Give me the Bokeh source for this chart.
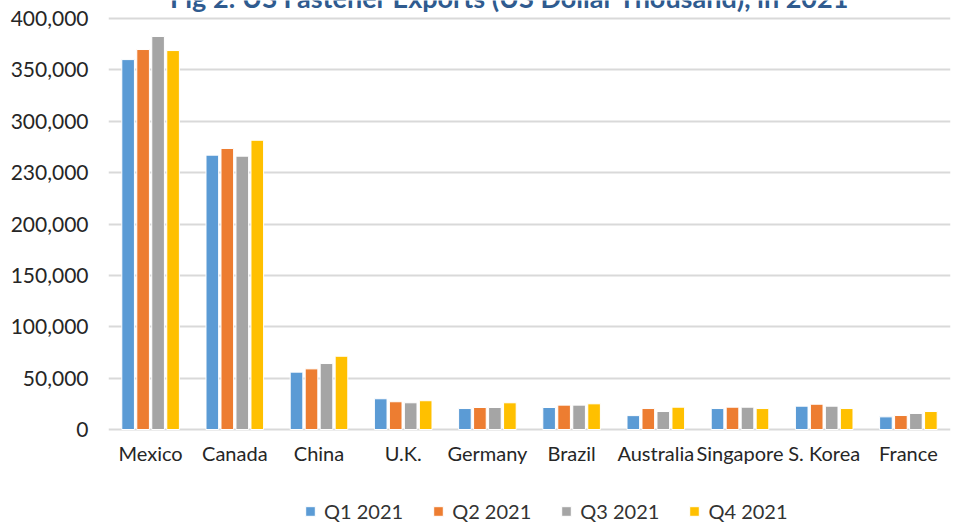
from bokeh.plotting import figure
from bokeh.models import (FactorRange, Legend, LegendItem, FixedTicker,
                          ColumnDataSource)
from bokeh.transform import dodge
from bokeh.core.properties import value
from bokeh.embed import file_html
from bokeh.resources import INLINE

countries = ["Mexico", "Canada", "China", "U.K.", "Germany", "Brazil",
             "Australia", "Singapore", "S. Korea", "France"]
q1 = [360000, 267000, 55800, 29900, 20400, 21400, 13500, 20400, 22700, 12300]
q2 = [369800, 273500, 59000, 27000, 21400, 23700, 20400, 21700, 24600, 13600]
q3 = [382500, 266000, 64200, 26000, 21400, 23700, 17500, 21700, 22700, 15600]
q4 = [368800, 281500, 71300, 28000, 26000, 25000, 21700, 20400, 20400, 17500]
series_names = ["Q1 2021", "Q2 2021", "Q3 2021", "Q4 2021"]
series_colors = ["#5B9BD5", "#ED7D31", "#A5A5A5", "#FFC000"]
y_ticks = [0, 50000, 100000, 150000, 200000, 250000, 300000, 350000, 400000]
y_tick_labels = ["0", "50,000", "100,000", "150,000", "200,000", "230,000",
                 "300,000", "350,000", "400,000"]
title_text = "Fig 2: US Fastener Exports (US Dollar Thousand), in 2021"

FONT = "Lato"

# layout geometry (pixels)
W, H = 952, 525
LEFT, TOP_PAD, AXIS_PX, BOTTOM_PAD = 108, 18, 411, 96
per_px = 400000 / AXIS_PX

src = ColumnDataSource(dict(country=countries, q1=q1, q2=q2, q3=q3, q4=q4,
                            base=[0] * len(countries)))

p = figure(x_range=FactorRange(*countries, range_padding=0),
           y_range=(-BOTTOM_PAD * per_px, 400000 + TOP_PAD * per_px),
           width=W, height=H, output_backend="svg", toolbar_location=None,
           x_axis_location=None,
           min_border_left=LEFT, min_border_right=2, min_border_top=0,
           min_border_bottom=0)
p.outline_line_color = None
p.background_fill_color = "white"
p.border_fill_color = "white"

p.xgrid.grid_line_color = None
p.ygrid.grid_line_color = "#D9D9D9"
p.ygrid.grid_line_width = 2
p.ygrid.ticker = FixedTicker(ticks=y_ticks)

offsets = [-0.267, -0.089, 0.089, 0.267]
renderers = []
for key, off, col in zip(["q1", "q2", "q3", "q4"], offsets, series_colors):
    r = p.vbar(x=dodge("country", off, range=p.x_range), top=key, bottom="base",
               width=0.15, source=src, fill_color=col, line_color="white",
               line_width=1)
    renderers.append(r)

# category labels under the zero line
p.text(x="country", y="base", text="country", source=src, y_offset=23,
       text_align="center", text_baseline="middle",
       text_font=value(FONT), text_font_size="20px", text_color="#262626")

# title, partially cut at the top as in the reference
p.text(x=[4.77], y=[400000 + 21 * per_px], text=[title_text],
       text_align="center", text_baseline="alphabetic",
       text_font=value(FONT), text_font_style="bold",
       text_font_size="27px", text_color="#2F5B8F")

legend = Legend(items=[LegendItem(label=n, renderers=[r]) for n, r in zip(series_names, renderers)],
                orientation="horizontal", location=(196, 2),
                border_line_color=None, background_fill_alpha=0,
                glyph_width=12, glyph_height=12, label_standoff=8, spacing=29,
                label_text_font=FONT, label_text_font_size="20px",
                label_text_color="#333333", margin=0, padding=3)
p.add_layout(legend, "center")

# y axis
p.yaxis.ticker = FixedTicker(ticks=y_ticks)
p.yaxis.major_label_overrides = {t: l for t, l in zip(y_ticks, y_tick_labels)}
p.yaxis.axis_line_color = None
p.yaxis.major_tick_line_color = None
p.yaxis.minor_tick_line_color = None
p.yaxis.major_label_standoff = 14
p.yaxis.major_label_text_font = FONT
p.yaxis.major_label_text_font_size = "21px"
p.yaxis.major_label_text_color = "#262626"

open("out.html", "w").write(file_html(p, INLINE))
